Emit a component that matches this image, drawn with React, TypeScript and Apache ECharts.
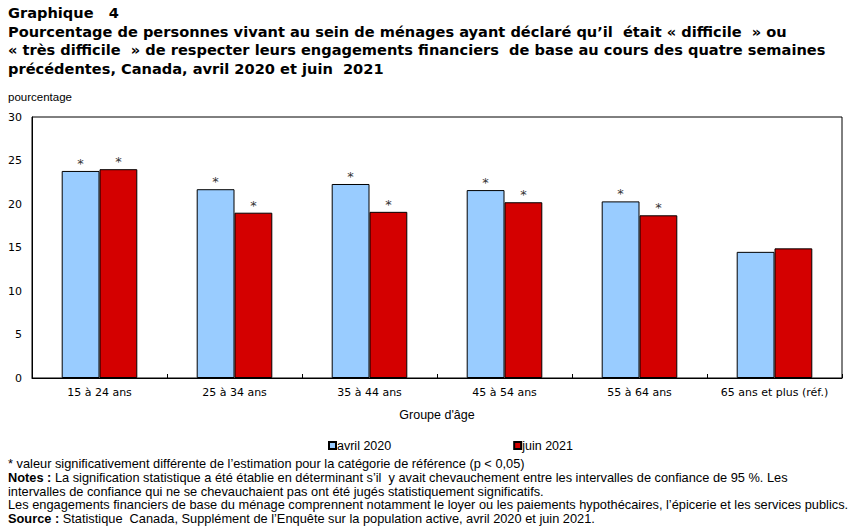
import React, { useEffect, useRef } from "react";
import * as echarts from "echarts";

const categories = ["15 à 24 ans", "25 à 34 ans", "35 à 44 ans", "45 à 54 ans", "55 à 64 ans", "65 ans et plus (réf.)"];
const avril2020 = [23.8, 21.7, 22.3, 21.6, 20.3, 14.5];
const juin2021 = [24.0, 19.0, 19.1, 20.2, 18.7, 14.9];
const sigAvril = [true, true, true, true, true, false];
const sigJuin = [true, true, true, true, true, false];
const yTicks = [0, 5, 10, 15, 20, 25, 30];

const titleLines = [
  "Graphique   4",
  "Pourcentage de personnes vivant au sein de ménages ayant déclaré qu’il  était « difficile  » ou",
  "« très difficile  » de respecter leurs engagements financiers  de base au cours des quatre semaines",
  "précédentes, Canada, avril 2020 et juin  2021",
];

const TXT = "Liberation Sans, Arial, sans-serif";
const AX = "DejaVu Sans, Verdana, sans-serif";

export default function App() {
  const ref = useRef<HTMLDivElement>(null);
  useEffect(() => {
    if (!ref.current) return;
    const chart = echarts.init(ref.current, undefined, { renderer: "svg" });
    const mk = (vals: number[], sig: boolean[]) =>
      vals.map((v, i) => ({
        value: v,
        label: { show: sig[i], formatter: "*" },
      }));
    const noteStyle = { fontFamily: TXT, fontSize: 12.8, fill: "#000" };
    chart.setOption({
      animation: false,
      backgroundColor: "#fff",
      textStyle: { fontFamily: AX },
      grid: { left: 32, right: 9, top: 117, bottom: 152, show: true, borderColor: "#000", borderWidth: 1 },
      legend: {
        left: 323,
        top: 434,
        itemWidth: 7,
        itemHeight: 7,
        itemGap: 122,
        icon: "rect",
        textStyle: { fontFamily: TXT, fontSize: 12.5, color: "#000", padding: [0, 0, 0, -4] },
        data: ["avril 2020", "juin 2021"],
      },
      xAxis: {
        type: "category",
        data: categories,
        name: "Groupe d'âge",
        nameLocation: "middle",
        nameGap: 30,
        nameTextStyle: { fontFamily: TXT, fontSize: 12.5, color: "#000" },
        axisLine: { lineStyle: { color: "#000" } },
        axisTick: { show: true, inside: true, length: 4, lineStyle: { color: "#000" } },
        axisLabel: { fontFamily: AX, fontSize: 11, color: "#000", margin: 9, interval: 0 },
      },
      yAxis: {
        type: "value",
        min: 0,
        max: yTicks[yTicks.length - 1],
        interval: 5,
        axisLine: { show: true, lineStyle: { color: "#000" } },
        axisTick: { show: false },
        splitLine: { show: false },
        axisLabel: { fontFamily: AX, fontSize: 11, color: "#000", margin: 10 },
      },
      series: [
        {
          name: "avril 2020",
          type: "bar",
          data: mk(avril2020, sigAvril),
          barGap: "0%",
          barCategoryGap: "44%",
          itemStyle: { color: "#99CCFF", borderColor: "#000", borderWidth: 1 },
          label: { position: "top", color: "#333", fontSize: 13, fontFamily: AX, distance: 1 },
        },
        {
          name: "juin 2021",
          type: "bar",
          data: mk(juin2021, sigJuin),
          itemStyle: { color: "#D40000", borderColor: "#000", borderWidth: 1 },
          label: { position: "top", color: "#333", fontSize: 13, fontFamily: AX, distance: 1 },
        },
      ],
      graphic: [
        ...titleLines.map((t, i) => ({
          type: "text",
          left: 8,
          top: 5 + i * 18.5,
          style: { text: t, fontFamily: AX, fontWeight: "bold", fontSize: 14.6, fill: "#000" },
        })),
        { type: "text", left: 8, top: 91, style: { text: "pourcentage", fontFamily: TXT, fontSize: 11.5, fill: "#000" } },
        { type: "text", left: 8, top: 457, style: { ...noteStyle, text: "* valeur significativement différente de l’estimation pour la catégorie de référence (p < 0,05)" } },
        {
          type: "text",
          left: 8,
          top: 471,
          style: {
            ...noteStyle,
            text: "{b|Notes :} La signification statistique a été établie en déterminant s’il  y avait chevauchement entre les intervalles de confiance de 95 %. Les",
            rich: { b: { fontWeight: "bold", fontFamily: TXT, fontSize: 12.8 } },
          },
        },
        { type: "text", left: 8, top: 484.5, style: { ...noteStyle, text: "intervalles de confiance qui ne se chevauchaient pas ont été jugés statistiquement significatifs." } },
        { type: "text", left: 8, top: 498, style: { ...noteStyle, text: "Les engagements financiers de base du ménage comprennent notamment le loyer ou les paiements hypothécaires, l’épicerie et les services publics." } },
        {
          type: "text",
          left: 8,
          top: 511.5,
          style: {
            ...noteStyle,
            text: "{b|Source :} Statistique  Canada, Supplément de l’Enquête sur la population active, avril 2020 et juin 2021.",
            rich: { b: { fontWeight: "bold", fontFamily: TXT, fontSize: 12.8 } },
          },
        },
      ],
    });
    return () => chart.dispose();
  }, []);
  return <div ref={ref} style={{ width: 851, height: 530, position: "absolute", left: 0, top: 0 }} />;
}
